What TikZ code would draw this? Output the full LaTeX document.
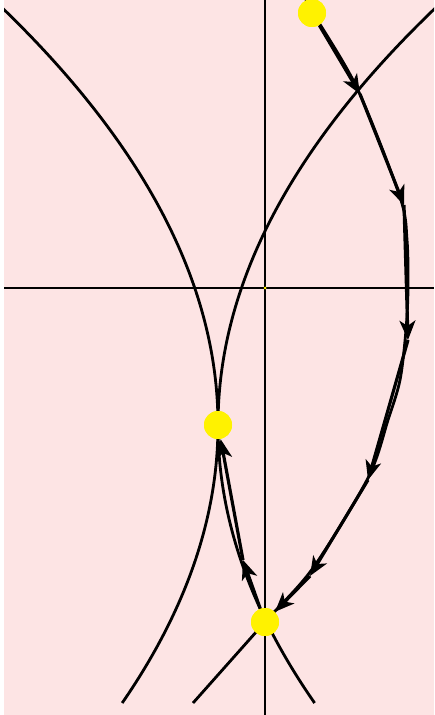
\documentclass[tikz,border=0pt]{standalone}
\usetikzlibrary{arrows.meta}
\definecolor{bgpink}{RGB}{253,228,228}
\tikzset{
  curve/.style={line width=1.6pt},
  axis/.style={line width=0.8pt},
  flow/.style={line width=1.8pt,-{Stealth[length=11pt,width=9pt,inset=3pt]}},
  dot/.style={circle,fill=yellow,inner sep=0pt,minimum size=0.56cm}
}
\begin{document}
\begin{tikzpicture}[x=0.02cm,y=-0.02cm]
\useasboundingbox (0,0) rectangle (434,715);
\fill[white] (0,0) rectangle (434,715);
\fill[bgpink] (4,0) rectangle (434,715);
\draw[axis] (4,288) -- (434,288);
\draw[axis] (265,0) -- (265,715);
\fill[yellow] (265,288) circle (1.5);
\begin{scope}
\clip (4,0) rectangle (434,715);
\draw[curve,domain=-20:703,samples=80,smooth,variable=\t] plot ({218-12.4*((\t-425)/100)^2},\t);
\draw[curve,domain=-20:703,samples=80,smooth,variable=\t] plot ({218+12.5*((\t-425)/100)^2},\t);
\draw[curve] plot[smooth] coordinates {(306,0) (313,13) (357,88) (400,197) (407,240) (408,288) (406,330) (400,380) (388,420) (368,478) (313,568) (265,622) (193,703)};
\end{scope}
\foreach \x/\y/\name in {360/94/c1,404/205/c2,408/340/c3,368/480/c4,310/576/c5,243/560/b1}
{
\coordinate (\name) at (\x,\y);
}
\node[dot] (start) at (312,13) {};
\node[dot] (low) at (265,622) {};
\node[dot] (meet) at (218,425) {};
\draw[flow] (start) -- (c1);
\draw[flow] (c1) -- (c2);
\draw[flow] (c2) -- (c3);
\draw[flow] (c3) -- (c4);
\draw[flow] (c4) -- (c5);
\draw[flow] (c5) -- (low);
\draw[flow] (low) -- (b1);
\draw[flow] (b1) -- (meet);
\node[dot] at (start) {};
\node[dot] at (low) {};
\node[dot] at (meet) {};
\end{tikzpicture}
\end{document}
